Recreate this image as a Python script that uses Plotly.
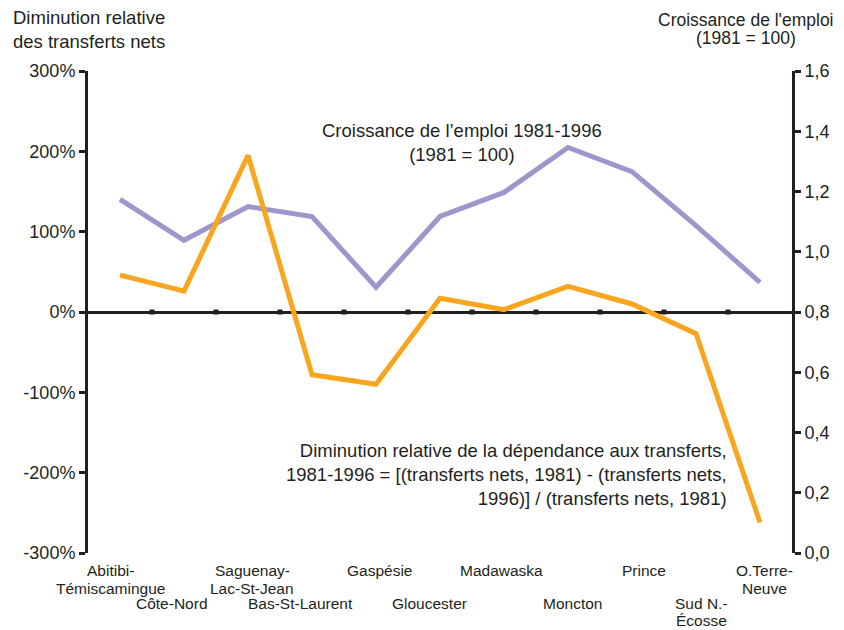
import plotly.graph_objects as go

categories = ["Abitibi-<br>Témiscamingue", "Côte-Nord", "Saguenay-<br>Lac-St-Jean", "Bas-St-Laurent",
              "Gaspésie", "Gloucester", "Madawaska", "Moncton", "Prince", "Sud N.-<br>Écosse",
              "O.Terre-<br>Neuve"]
transferts = [46, 26, 195, -78, -90, 17, 3, 32, 10, -27, -262]          # % (left axis)
emploi = [1.174, 1.038, 1.150, 1.117, 0.882, 1.117, 1.197, 1.346, 1.266, 1.087, 0.898]  # right axis
left_ticks = [-300, -200, -100, 0, 100, 200, 300]
left_ticktext = ["-300%", "-200%", "-100%", "0%", "100%", "200%", "300%"]
right_ticks = [0.0, 0.2, 0.4, 0.6, 0.8, 1.0, 1.2, 1.4, 1.6]
right_ticktext = ["0,0", "0,2", "0,4", "0,6", "0,8", "1,0", "1,2", "1,4", "1,6"]
right_title = ["Croissance de l'emploi", "(1981 = 100)"]

ORANGE = "#f8a51f"
PURPLE = "#9d97cc"
INK = "#231f20"
FONT = "Liberation Sans, Arial, sans-serif"

# label style (row and horizontal nudge per category)
label_row = [0, 1, 0, 1, 0, 1, 0, 1, 0, 1, 0]
label_shift = [-10, -12, 4, -12, 3, -11, -3, 4, 12, 5, 4]

# the page body adds an 8px margin; draw the figure in the remaining area
OFF = 8
W, H = 844 - OFF, 630 - OFF
L, R, T, B = 88 - OFF, 52, 71 - OFF, 77
pw, ph = W - L - R, H - T - B

def px(x):
    return (x - OFF - L) / pw

def py(y):
    return (H - B - (y - OFF)) / ph

xs = list(range(len(categories)))

fig = go.Figure()
fig.add_trace(go.Scatter(x=xs, y=emploi, mode="lines", line=dict(color=PURPLE, width=5),
                         yaxis="y", hoverinfo="skip", showlegend=False))
fig.add_trace(go.Scatter(x=[i + 0.5 for i in xs[:-1]], y=[0] * (len(xs) - 1), mode="markers",
                         marker=dict(color=INK, size=5, symbol="square"), yaxis="y2",
                         hoverinfo="skip", showlegend=False))
fig.add_trace(go.Scatter(x=xs, y=transferts, mode="lines", line=dict(color=ORANGE, width=5),
                         yaxis="y2", hoverinfo="skip", showlegend=False))

annotations = []
for i, (c, row, sh) in enumerate(zip(categories, label_row, label_shift)):
    top, step = (570, 18) if row == 0 else (603, 17)
    for j, part in enumerate(c.split("<br>")):
        annotations.append(dict(x=i, xref="x", y=py(top + step * j), yref="paper",
                                yanchor="middle", xanchor="center", text=part, showarrow=False,
                                xshift=sh, font=dict(size=15.5, color=INK, family=FONT)))

for j, part in enumerate(right_title):
    annotations.append(dict(x=px(746), y=py(20 + 18 * j), xref="paper", yref="paper",
                            xanchor="center", yanchor="middle", showarrow=False, text=part,
                            font=dict(size=17.5, color=INK, family=FONT)))

annotations += [
    dict(x=px(11), y=py(29), xref="paper", yref="paper", xanchor="left", yanchor="middle",
         align="left", showarrow=False, text="Diminution relative<br>des transferts nets",
         font=dict(size=18.5, color=INK, family=FONT)),
    dict(x=px(462), y=py(142), xref="paper", yref="paper", xanchor="center", yanchor="middle",
         align="center", showarrow=False, text="Croissance de l’emploi 1981-1996<br>(1981 = 100)",
         font=dict(size=18.5, color=INK, family=FONT)),
    dict(x=px(729), y=py(474), xref="paper", yref="paper", xanchor="right", yanchor="middle",
         align="right", showarrow=False,
         text="Diminution relative de la dépendance aux transferts,<br>"
              "1981-1996 = [(transferts nets, 1981) - (transferts nets,<br>"
              "1996)] / (transferts nets, 1981)",
         font=dict(size=18.5, color=INK, family=FONT)),
]

fig.update_layout(
    width=W, height=H,
    margin=dict(l=L, r=R, t=T, b=B),
    paper_bgcolor="white", plot_bgcolor="white",
    font=dict(family=FONT, color=INK),
    xaxis=dict(range=[-0.5, 10.5], showgrid=False, zeroline=False, showticklabels=False,
               showline=True, linecolor=INK, linewidth=3, anchor="free", position=0.5,
               ticks="", layer="below traces", fixedrange=True, automargin=False),
    yaxis=dict(range=[0, 1.6], side="right", tickvals=right_ticks, ticktext=right_ticktext,
               showgrid=False, zeroline=False, showline=True, linecolor=INK, linewidth=3,
               ticks="outside", ticklen=6, tickwidth=2.5, tickcolor=INK, automargin=False,
               tickfont=dict(size=18, color=INK, family=FONT), anchor="x"),
    yaxis2=dict(range=[-300, 300], side="left", overlaying="y", tickvals=left_ticks,
                ticktext=left_ticktext, showgrid=False, zeroline=False, showline=True,
                linecolor=INK, linewidth=3, ticks="outside", ticklen=6, tickwidth=2.5,
                tickcolor=INK, tickfont=dict(size=18, color=INK, family=FONT), anchor="x",
                automargin=False),
    annotations=annotations,
    showlegend=False,
)

fig.write_html("out.html")
